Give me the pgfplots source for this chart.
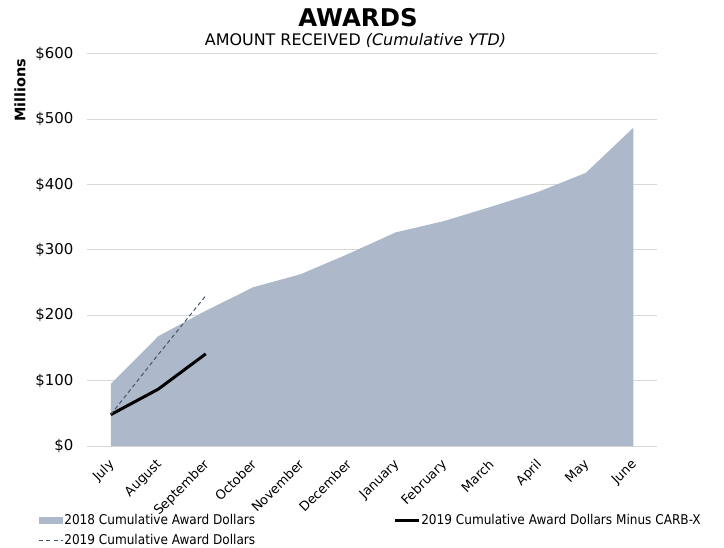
\documentclass[border=0pt]{standalone}
\usepackage{fontspec}
\setmainfont{DejaVu Sans}
\newfontfamily\condfont{DejaVu Sans Condensed}
\usepackage{pgfplots}
\pgfplotsset{compat=1.18}
\definecolor{area18}{HTML}{ADB9CA}
\definecolor{dash19}{HTML}{44546A}
\definecolor{gridc}{HTML}{D9D9D9}

% Cumulative award dollars (millions), fiscal year July..June
\pgfplotstableread{
idx val
0  95
1  168
2  207
3  243
4  263
5  294
6  327
7  344
8  366
9  389
10 418
11 487
}\awardsA
\pgfplotstableread{
idx val
0  48
1  140
2  230
}\awardsB
\pgfplotstableread{
idx val
0  48
1  87
2  141
}\awardsC

\begin{document}
\begin{tikzpicture}
\useasboundingbox (0bp,0bp) rectangle (724bp,548bp);
\node[font=\bfseries\fontsize{24.5}{28}\selectfont] at (358bp,530.5bp) {AWARDS};
\node[font=\fontsize{16}{19}\selectfont] at (355.5bp,507.5bp) {AMOUNT RECEIVED \textit{(Cumulative YTD)}};
\begin{axis}[
  at={(87bp,102bp)}, anchor=south west,
  scale only axis, width=570bp, height=392bp,
  xmin=-0.5, xmax=11.5, ymin=0, ymax=600,
  xtick={0,...,11},
  xticklabels={July,August,September,October,November,December,January,February,March,April,May,June},
  ytick={0,100,...,600},
  yticklabel={\$\pgfmathprintnumber{\tick}},
  /pgf/number format/assume math mode=true,
  ymajorgrids, grid style={gridc, line width=1bp},
  axis line style={draw=none}, major tick length=0pt,
  y tick label style={font=\fontsize{15}{17}\selectfont, xshift=-10bp},
  xticklabel style={font=\fontsize{13}{15}\selectfont, inner sep=0pt,
    xshift=-3bp, yshift=-12bp, rotate=45, anchor=north east},
  ylabel={Millions},
  ylabel style={at={(rel axis cs:-0.1175,0.908)}, anchor=center, font=\bfseries\fontsize{14.5}{17}\selectfont},
  legend columns=2,
  legend cell align=left,
  legend style={at={(rel axis cs:-0.091,-0.1665)}, anchor=north west, draw=none, fill=none,
    font=\condfont\fontsize{13.5}{16}\selectfont, row sep=5bp,
    nodes={inner sep=1bp, text height=10bp, text depth=3bp},
    /tikz/column 2/.style={column sep=137bp}},
  clip=false,
]
\addplot[fill=area18, draw=none, area legend,
  legend image code/.code={\fill[area18] (0bp,-3.5bp) rectangle (24bp,3.5bp);}]
  table[x=idx,y=val] {\awardsA} \closedcycle;
\addlegendentry{2018 Cumulative Award Dollars}
\addplot[black, line width=3bp,
  legend image code/.code={\draw[black, line width=3bp] (0bp,0bp) -- (24bp,0bp);}]
  table[x=idx,y=val] {\awardsC};
\addlegendentry{2019 Cumulative Award Dollars Minus CARB-X}
\addplot[dash19, line width=1bp, dash pattern=on 4bp off 3bp,
  legend image code/.code={\draw[dash19, line width=1bp, dash pattern=on 4bp off 3.5bp] (0bp,0bp) -- (24bp,0bp);}]
  table[x=idx,y=val] {\awardsB};
\addlegendentry{2019 Cumulative Award Dollars}
\end{axis}
\end{tikzpicture}
\end{document}
